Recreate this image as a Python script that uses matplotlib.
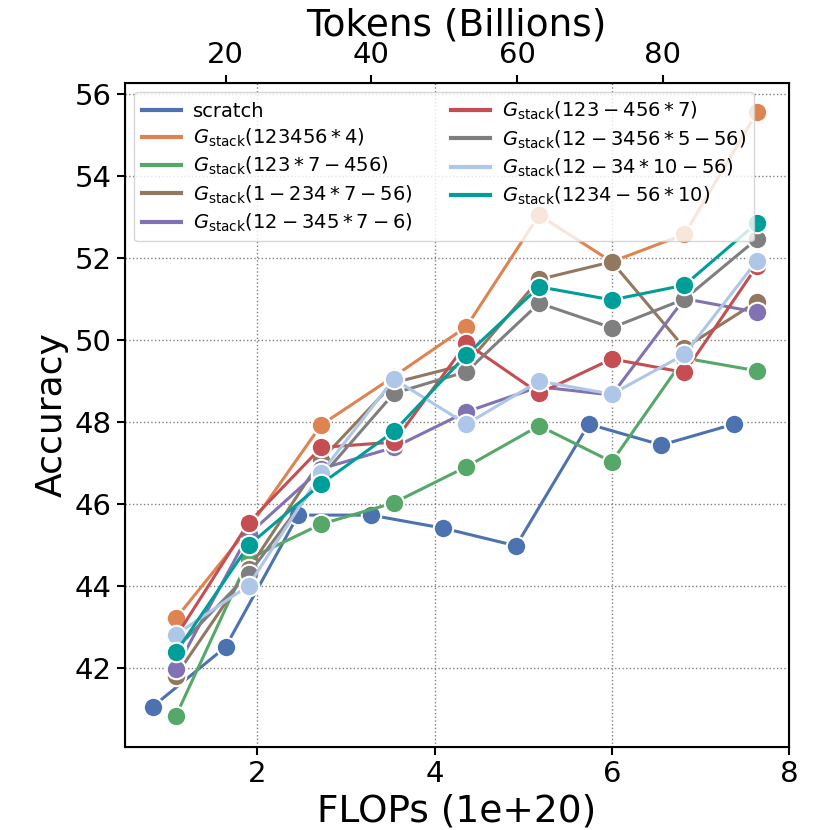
import numpy as np
import matplotlib
matplotlib.use('Agg')
import matplotlib.pyplot as plt

# FLOPs (1e+20) for each checkpoint
flops_scratch = [0.82, 1.64, 2.46, 3.28, 4.10, 4.92, 5.74, 6.56, 7.38]
flops_stack = [1.08, 1.90, 2.72, 3.54, 4.36, 5.18, 6.00, 6.82, 7.64]

# Accuracy per run
acc_scratch = [41.05, 42.50, 45.72, 45.72, 45.40, 44.97, 47.94, 47.43, 47.94]
acc_123456_4 = [43.20, 45.40, 47.92, 49.10, 50.32, 53.04, 51.90, 52.57, 55.55]
acc_123_7_456 = [40.82, 44.65, 45.50, 46.02, 46.90, 47.90, 47.02, 49.55, 49.24]
acc_1_234_7_56 = [41.80, 44.40, 47.07, 48.95, 49.40, 51.47, 51.90, 49.80, 50.93]
acc_12_345_7_6 = [41.97, 45.25, 46.85, 47.37, 48.24, 48.85, 48.65, 51.00, 50.67]
acc_123_456_7 = [42.75, 45.53, 47.37, 47.50, 49.91, 48.69, 49.53, 49.20, 51.80]
acc_12_3456_5_56 = [42.45, 44.28, 46.65, 48.69, 49.22, 50.89, 50.29, 50.99, 52.46]
acc_12_34_10_56 = [42.80, 44.00, 46.75, 49.04, 47.94, 48.99, 48.67, 49.64, 51.93]
acc_1234_56_10 = [42.37, 44.98, 46.48, 47.76, 49.63, 51.29, 50.97, 51.33, 52.85]

# tokens (billions) per 1e20 FLOPs, for the top axis
tokens_per_flop = 12.17

runs = [
    ('scratch', flops_scratch, acc_scratch, '#4C72B0'),
    (r'$G_{\mathrm{stack}}(123456*4)$', flops_stack, acc_123456_4, '#DD8452'),
    (r'$G_{\mathrm{stack}}(123*7-456)$', flops_stack, acc_123_7_456, '#55A868'),
    (r'$G_{\mathrm{stack}}(1-234*7-56)$', flops_stack, acc_1_234_7_56, '#937860'),
    (r'$G_{\mathrm{stack}}(12-345*7-6)$', flops_stack, acc_12_345_7_6, '#8172B3'),
    (r'$G_{\mathrm{stack}}(123-456*7)$', flops_stack, acc_123_456_7, '#C44E52'),
    (r'$G_{\mathrm{stack}}(12-3456*5-56)$', flops_stack, acc_12_3456_5_56, '#7F7F7F'),
    (r'$G_{\mathrm{stack}}(12-34*10-56)$', flops_stack, acc_12_34_10_56, '#AEC7E8'),
    (r'$G_{\mathrm{stack}}(1234-56*10)$', flops_stack, acc_1234_56_10, '#009E99'),
]

fig = plt.figure(figsize=(8.3, 8.3), dpi=100)
ax = fig.add_axes([0.15, 0.1004, 0.8006, 0.80])

for label, x, y, color in runs:
    ax.plot(x, y, '-', color=color, label=label, lw=2.2)
    ax.plot(x, y, 'o', color=color, markersize=14,
            markeredgecolor='white', markeredgewidth=1.5)

ax.set_xlim(0.5, 8.0)
ax.set_ylim(40.07, 56.27)
ax.set_xticks([2, 4, 6, 8])
ax.set_yticks(np.arange(42, 57, 2))
ax.tick_params(labelsize=21, width=1.5, length=6)
ax.grid(True, linestyle=':', color='gray', linewidth=1)
ax.set_xlabel('FLOPs (1e+20)', fontsize=27)
ax.set_ylabel('Accuracy', fontsize=26)
for s in ax.spines.values():
    s.set_linewidth(1.5)

leg = ax.legend(loc='upper left', ncol=2, fontsize=14, handlelength=2.0,
                handletextpad=0.6, columnspacing=2.0, labelspacing=0.3)
for h in leg.get_lines():
    h.set_linewidth(3)

ax2 = ax.twiny()
ax2.set_xlim(0.5 * tokens_per_flop, 8.0 * tokens_per_flop)
ax2.set_xticks([20, 40, 60, 80])
ax2.tick_params(labelsize=21, width=1.5, length=6)
ax2.set_xlabel('Tokens (Billions)', fontsize=27)

fig.savefig('out.png', dpi=100)
